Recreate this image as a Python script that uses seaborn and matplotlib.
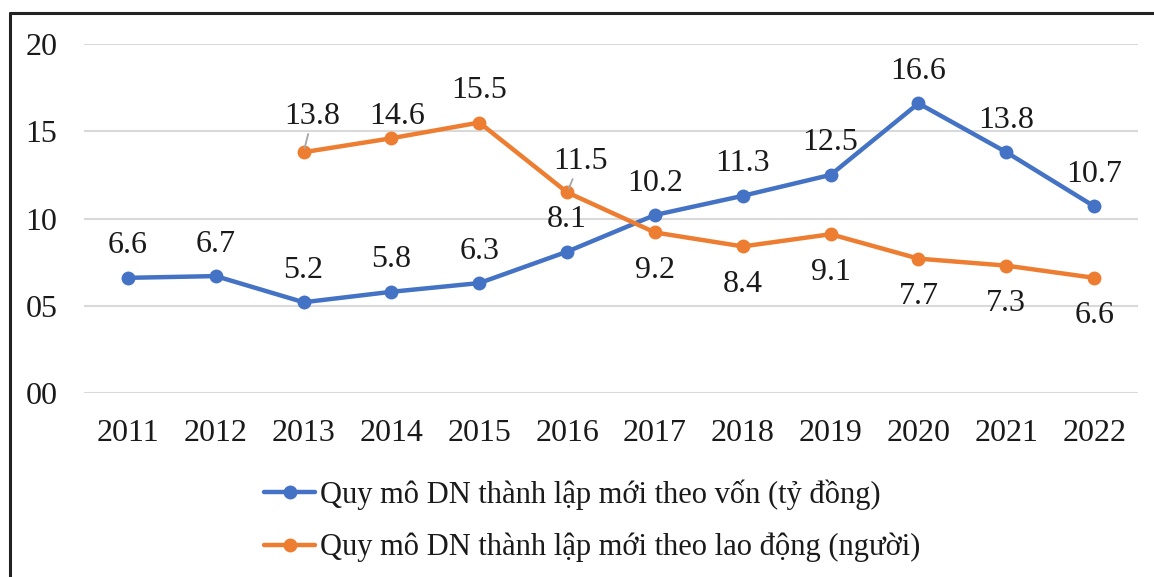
import numpy as np
import pandas as pd
import seaborn as sns
import matplotlib.pyplot as plt
from matplotlib.lines import Line2D

# ---------------------- Data ------------------------
years = [2011, 2012, 2013, 2014, 2015, 2016, 2017, 2018, 2019, 2020, 2021, 2022]
von = [6.6, 6.7, 5.2, 5.8, 6.3, 8.1, 10.2, 11.3, 12.5, 16.6, 13.8, 10.7]
lao_dong = [np.nan, np.nan, 13.8, 14.6, 15.5, 11.5, 9.2, 8.4, 9.1, 7.7, 7.3, 6.6]
y_ticks = [0, 5, 10, 15, 20]
y_tick_labels = ["00", "05", "10", "15", "20"]
name_von = "Quy mô DN thành lập mới theo vốn (tỷ đồng)"
name_ld = "Quy mô DN thành lập mới theo lao động (người)"

df = pd.DataFrame({"year": years, "von": von, "lao_dong": lao_dong})

# ---------------------- Style -----------------------
sns.set_theme(style="white")
plt.rcParams["font.family"] = ["Liberation Serif", "DejaVu Serif"]
FS = 23
TXT = "#1a1a1a"
BLUE = "#4472C4"
ORANGE = "#ED7D31"

fig = plt.figure(figsize=(11.54, 5.77), dpi=100)
ax = fig.add_axes([0.0728, 0.3189, 0.9134, 0.6048])

sns.lineplot(data=df, x="year", y="von", ax=ax, color=BLUE, linewidth=3.2,
             marker="o", markersize=10, markeredgewidth=0)
sns.lineplot(data=df.dropna(), x="year", y="lao_dong", ax=ax, color=ORANGE,
             linewidth=3.2, marker="o", markersize=10, markeredgewidth=0)

ax.set_xlim(years[0] - 0.5, years[-1] + 0.5)
ax.set_ylim(0, 20)
ax.set_xticks(years)
ax.set_xticklabels([str(y) for y in years], fontsize=FS, color=TXT)
ax.set_yticks(y_ticks)
ax.set_yticklabels(y_tick_labels, fontsize=FS, color=TXT)
ax.tick_params(axis="y", pad=19, length=0)
ax.tick_params(axis="x", pad=19, length=0)
ax.set_xlabel("")
ax.set_ylabel("")
ax.grid(axis="y", color="#D9D9D9", linewidth=1.5)
ax.set_axisbelow(True)
for s in ax.spines.values():
    s.set_visible(False)

# ---------------------- Data labels -----------------------
px = 0.72  # points per pixel at dpi 100
for x, v in zip(years, von):
    ax.annotate(f"{v:.1f}", (x, v), xytext=(0, 32 * px), textcoords="offset points",
                ha="center", va="center", fontsize=FS, color=TXT)

ld_offsets = {2013: (9, 36), 2014: (6, 22), 2015: (0, 32), 2016: (13, 31)}
leaders = {2013, 2016}
for x, v in zip(years, lao_dong):
    if np.isnan(v):
        continue
    dx, dy = ld_offsets.get(x, (0, -38))
    arrow = dict(arrowstyle="-", color="#A6A6A6", lw=1.3, shrinkA=0, shrinkB=3) if x in leaders else None
    ax.annotate(f"{v:.1f}", (x, v), xytext=(dx * px, dy * px), textcoords="offset points",
                ha="center", va="center", fontsize=FS, color=TXT, arrowprops=arrow)

# ---------------------- Legend -----------------------
handles = [
    Line2D([], [], color=BLUE, linewidth=3.2, marker="o", markersize=10, markeredgewidth=0),
    Line2D([], [], color=ORANGE, linewidth=3.2, marker="o", markersize=10, markeredgewidth=0),
]
fig.legend(handles, [name_von, name_ld], loc="center", bbox_to_anchor=(0.513, 0.097),
           frameon=False, fontsize=22, handlelength=1.7, handletextpad=0.15,
           labelspacing=0.75, labelcolor=TXT)

# ---------------------- Frame -----------------------
fig.add_artist(Line2D([0.0087, 1.0], [0.9775, 0.9775], color="#222222", linewidth=2.2,
                      transform=fig.transFigure))
fig.add_artist(Line2D([0.0087, 0.0087], [0.0, 0.9775], color="#222222", linewidth=2.2,
                      transform=fig.transFigure))

fig.savefig("out.png", dpi=100, facecolor="white")
